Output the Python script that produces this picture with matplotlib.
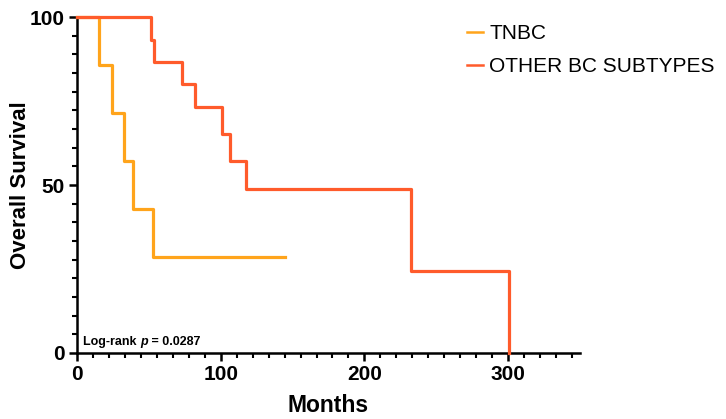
import matplotlib
matplotlib.use("Agg")
import matplotlib.pyplot as plt
from matplotlib.ticker import MultipleLocator, AutoMinorLocator
from matplotlib.lines import Line2D
from matplotlib.transforms import offset_copy

plt.rcParams['font.family'] = ['Liberation Sans', 'DejaVu Sans']

# TNBC step curve (event times, survival after each step)
tnbc_times = [0, 15.4, 24.4, 32.8, 39.0, 53.0, 145.0]
tnbc_surv = [100, 85.7, 71.4, 57.1, 42.9, 28.6, 28.6]

# Other BC subtypes
other_times = [0, 51.6, 53.4, 73.1, 82.0, 101.0, 106.6, 117.4, 232.7, 300.8]
other_surv = [100, 93.3, 86.7, 80.0, 73.3, 65.2, 57.0, 48.9, 24.4, 0]

series_labels = ["TNBC", "OTHER BC SUBTYPES"]
colors = ["#FFA41B", "#FF5B2B"]

fig = plt.figure(figsize=(7.26, 4.19), dpi=100)
ax = fig.add_axes([77/726, 1-353/419, (580-77)/726, (353-17)/419])

ax.step(tnbc_times, tnbc_surv, where='post', color=colors[0], lw=2.3, clip_on=False, zorder=3)
ax.step(other_times, other_surv, where='post', color=colors[1], lw=2.3, clip_on=False, zorder=4)

ax.set_xlim(0, 350)
ax.set_ylim(0, 100)
ax.xaxis.set_major_locator(MultipleLocator(100))
ax.xaxis.set_minor_locator(AutoMinorLocator(9))
ax.yaxis.set_major_locator(MultipleLocator(50))
ax.yaxis.set_minor_locator(AutoMinorLocator(9))

for s in ['top', 'right']:
    ax.spines[s].set_visible(False)
for s in ['left', 'bottom']:
    ax.spines[s].set_linewidth(1.8)

ax.tick_params(which='major', length=6, width=1.8, labelsize=15, pad=3)
ax.tick_params(which='minor', length=3.5, width=1.5)
for lab in ax.get_xticklabels() + ax.get_yticklabels():
    lab.set_fontweight('bold')

ax.set_xlabel("Months", fontsize=16.5, fontweight='bold', labelpad=7)
ax.set_ylabel("Overall Survival", fontsize=16, fontweight='bold', labelpad=-1)

# Log-rank annotation with bold-italic p, built from consecutive text pieces
pieces = [("Log-rank ", 'normal'), ("p", 'italic'), (" = 0.0287", 'normal')]
fig.canvas.draw()
renderer = fig.canvas.get_renderer()
trans = ax.transAxes
for txt, style in pieces:
    t = ax.text(0.012, 0.014, txt, transform=trans, fontsize=9, fontweight='bold',
                style=style, ha='left', va='bottom')
    w = t.get_window_extent(renderer=renderer).width
    trans = offset_copy(trans, fig=fig, x=w * 72 / fig.dpi, units='points')

handles = [Line2D([0], [0], color=c, lw=1.8) for c in colors]
fig.legend(handles, series_labels, loc='upper left', bbox_to_anchor=(459/726, 1-16/419),
           frameon=False, fontsize=15, handlelength=0.75, handletextpad=0.3,
           labelspacing=0.68, borderaxespad=0)

fig.savefig("out.png", dpi=100)
